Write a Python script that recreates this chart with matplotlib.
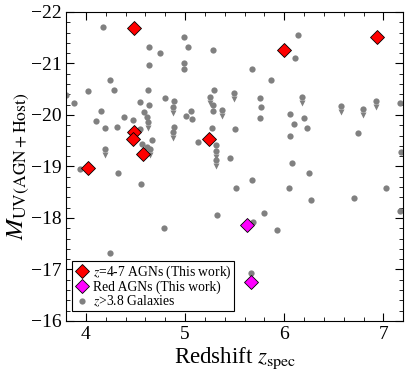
import matplotlib
matplotlib.use("Agg")
from matplotlib import pyplot as plt
from matplotlib.ticker import MultipleLocator

plt.rcParams['font.family'] = ['Liberation Serif', 'DejaVu Serif']
plt.rcParams['mathtext.fontset'] = 'stix'

# gray galaxies (z > 3.8)
gal_z = [4.17, 4.64, 4.75, 4.64, 4.99, 5.03, 4.99, 4.99, 5.28, 4.24,
         4.28, 4.02, 3.80, 3.88, 4.63, 4.54, 4.64, 4.80, 4.89, 4.15,
         4.38, 4.10, 4.47, 4.59, 4.62, 4.19, 4.31, 4.54, 4.56, 4.62,
         4.67, 4.89, 5.01, 5.06, 5.07, 5.13, 5.27, 5.29, 5.28, 5.28,
         5.50, 5.31, 5.45, 4.32, 6.14, 6.11, 5.67, 5.87, 5.76, 5.77,
         5.76, 6.06, 6.10, 6.20, 6.23, 6.06, 6.74, 7.17, 7.18, 6.08,
         3.94, 4.55, 5.51, 5.32, 4.79, 4.24, 4.82, 6.25, 5.67, 6.05,
         6.27, 6.70, 7.03, 7.17, 5.80, 5.93, 5.68, 5.66]
gal_m = [-21.71, -21.32, -21.21, -20.97, -21.51, -21.31, -21.01, -20.89, -21.26, -20.67,
         -20.49, -20.46, -20.38, -20.23, -20.48, -20.25, -20.19, -20.32, -20.27, -20.08,
         -19.96, -19.88, -19.90, -20.06, -19.96, -19.75, -19.76, -19.73, -19.44, -19.38,
         -19.51, -19.77, -19.97, -20.07, -19.93, -19.47, -19.75, -20.48, -20.20, -20.07,
         -19.72, -19.42, -19.17, -18.88, -21.55, -21.10, -20.89, -20.67, -20.33, -20.16,
         -19.94, -20.01, -19.82, -19.94, -19.75, -19.60, -19.65, -20.23, -19.28, -19.07,
         -18.95, -18.66, -18.58, -18.06, -17.81, -17.32, -17.04, -18.88, -18.74, -18.58,
         -18.34, -18.39, -18.58, -18.13, -18.09, -17.76, -17.93, -16.93]

# galaxies with upper limits (drawn with a down arrow)
lim_z = [4.88, 4.88, 4.63, 5.25, 5.37, 5.49, 5.31, 5.31, 4.19, 6.18,
         6.57, 6.79, 6.93, 4.65]
lim_m = [-20.16, -19.67, -19.86, -20.35, -20.09, -20.43, -19.30, -19.13, -19.34, -20.35,
         -20.17, -20.12, -20.27, -19.34]

# AGNs from this work
agn_z = [4.48, 6.00, 6.94, 4.48, 4.47, 4.58, 5.24, 4.02]
agn_m = [-21.68, -21.26, -21.52, -19.66, -19.54, -19.25, -19.54, -18.97]

red_z = [5.62, 5.66]
red_m = [-17.86, -16.75]

fig = plt.figure(figsize=(4.11, 3.74), dpi=100)
ax = fig.add_axes([0.161, 0.142, 0.82, 0.826])

ax.plot(gal_z, gal_m, 'o', color='gray', ms=4.5, mec='none',
        label=r'$z$>3.8 Galaxies', zorder=2)
ax.plot(lim_z, lim_m, 'o', color='gray', ms=4.5, mec='none', zorder=2)
ax.plot(lim_z, [m + 0.12 for m in lim_m], 'v', color='gray', ms=4.3,
        mec='none', zorder=2)
ax.plot(agn_z, agn_m, 'D', color='red', mec='black', mew=0.6, ms=6.8,
        label=r'$z$=4-7 AGNs (This work)', zorder=3)
ax.plot(red_z, red_m, 'D', color='magenta', mec='black', mew=0.6, ms=6.8,
        label='Red AGNs (This work)', zorder=3)

ax.set_xlim(3.8, 7.2)
ax.set_ylim(-16, -22)
ax.xaxis.set_major_locator(MultipleLocator(1))
ax.xaxis.set_minor_locator(MultipleLocator(0.2))
ax.yaxis.set_major_locator(MultipleLocator(1))
ax.yaxis.set_minor_locator(MultipleLocator(0.2))
ax.tick_params(which='both', direction='in', top=True, right=True, labelsize=14)
ax.tick_params(which='major', length=5.5)
ax.tick_params(which='minor', length=3)

ax.set_xlabel(r'Redshift $z_{\rm spec}$', fontsize=16.5, labelpad=2)
ax.set_ylabel(r'$M_{\rm UV(AGN+Host)}$', fontsize=18, labelpad=0)

handles, labels = ax.get_legend_handles_labels()
order = [1, 2, 0]
leg = ax.legend([handles[i] for i in order], [labels[i] for i in order],
                loc='lower left', bbox_to_anchor=(0.018, 0.032), borderaxespad=0,
                fontsize=9.8, fancybox=False, framealpha=1,
                edgecolor='black', handletextpad=0.2, borderpad=0.15,
                labelspacing=-0.02, handlelength=1.2)
leg.get_frame().set_linewidth(0.8)

fig.savefig('out.png', dpi=100)
